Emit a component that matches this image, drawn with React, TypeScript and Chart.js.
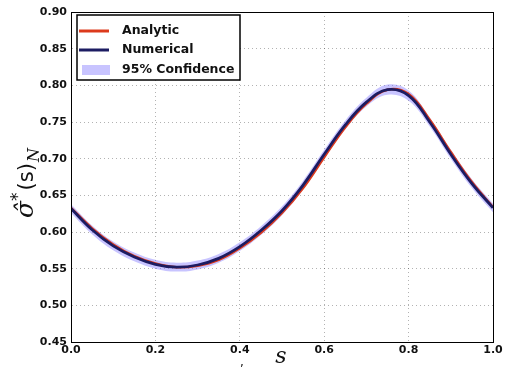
import React, { useEffect, useRef } from "react";
import { Chart, registerables } from "chart.js";

Chart.register(...registerables);

const sValues = [0, 0.05, 0.1, 0.15, 0.2, 0.25, 0.3, 0.35, 0.4, 0.45, 0.5, 0.55, 0.6, 0.65, 0.7, 0.75, 0.8, 0.85, 0.9, 0.95, 1.0];
const numerical = [0.632, 0.603, 0.581, 0.566, 0.556, 0.552, 0.555, 0.564, 0.580, 0.602, 0.629, 0.664, 0.706, 0.746, 0.777, 0.794, 0.786, 0.750, 0.706, 0.666, 0.633];
const analytic = [0.633, 0.605, 0.583, 0.567, 0.557, 0.552, 0.554, 0.562, 0.578, 0.599, 0.626, 0.660, 0.702, 0.743, 0.775, 0.794, 0.788, 0.753, 0.709, 0.668, 0.634];
const confUpper = [0.638, 0.609, 0.587, 0.572, 0.562, 0.558, 0.561, 0.570, 0.586, 0.608, 0.635, 0.670, 0.712, 0.752, 0.783, 0.801, 0.793, 0.756, 0.712, 0.672, 0.639];
const confLower = [0.626, 0.597, 0.575, 0.560, 0.550, 0.546, 0.549, 0.558, 0.574, 0.596, 0.623, 0.658, 0.700, 0.740, 0.771, 0.787, 0.779, 0.744, 0.700, 0.660, 0.627];
const legendLabels = ["Analytic", "Numerical", "95% Confidence"];

const RED = "#dc3a1c";
const NAVY = "#1c1c62";
const BAND = "rgba(125,115,255,0.42)";

const pts = (ys: number[]) => sValues.map((x, i) => ({ x, y: ys[i] }));

const decorPlugin = {
  id: "decor",
  afterDraw(chart: any) {
    const { ctx, chartArea: a } = chart;
    ctx.save();
    // frame
    ctx.strokeStyle = "#000";
    ctx.lineWidth = 1;
    ctx.strokeRect(a.left + 0.5, a.top + 0.5, a.right - a.left, a.bottom - a.top);

    // legend
    const lx = a.left + 6, ly = a.top + 3, lw = 163, lh = 65;
    ctx.fillStyle = "#fff";
    ctx.fillRect(lx, ly, lw, lh);
    ctx.lineWidth = 1.5;
    ctx.strokeStyle = "#000";
    ctx.strokeRect(lx, ly, lw, lh);
    const rows = [ly + 16, ly + 35, ly + 55];
    ctx.lineWidth = 3;
    ctx.strokeStyle = RED;
    ctx.beginPath(); ctx.moveTo(lx + 2, rows[0]); ctx.lineTo(lx + 32, rows[0]); ctx.stroke();
    ctx.strokeStyle = NAVY;
    ctx.beginPath(); ctx.moveTo(lx + 2, rows[1]); ctx.lineTo(lx + 32, rows[1]); ctx.stroke();
    ctx.fillStyle = BAND;
    ctx.fillRect(lx + 5, rows[2] - 5, 28, 10);
    ctx.fillStyle = "#111";
    ctx.font = "bold 12.5px 'DejaVu Sans'";
    ctx.textBaseline = "middle";
    ctx.textAlign = "left";
    legendLabels.forEach((t, i) => ctx.fillText(t, lx + 45, rows[i]));

    // x title
    ctx.textBaseline = "alphabetic";
    ctx.textAlign = "center";
    ctx.font = "italic 22px 'DejaVu Serif'";
    ctx.fillText("s", 281, 363);
    ctx.font = "12px 'DejaVu Sans'";
    ctx.fillText(",", 242, 366);

    // y title, rotated
    const pieces: [string, string, number, number][] = [
      ["\u03C3\u0302", "italic 25px 'DejaVu Serif'", 0, 0],
      ["*", "17px 'DejaVu Sans'", -10, 2],
      ["(s)", "21px 'DejaVu Sans'", 0, 1],
      ["N", "italic 16px 'DejaVu Serif'", 6, 0],
    ];
    let total = 0;
    const widths = pieces.map(([t, f, , g]) => { ctx.font = f; const w = ctx.measureText(t).width + g; total += w; return w; });
    ctx.translate(33, 183);
    ctx.rotate(-Math.PI / 2);
    ctx.textAlign = "left";
    let x = -total / 2;
    pieces.forEach(([t, f, dy], i) => {
      ctx.font = f;
      ctx.fillText(t, x, dy);
      x += widths[i];
    });
    ctx.restore();
  },
};

export default function App() {
  const ref = useRef<HTMLCanvasElement | null>(null);
  useEffect(() => {
    document.body.style.margin = "0";
    const chart = new Chart(ref.current!, {
      type: "line",
      data: {
        datasets: [
          { label: "upper", data: pts(confUpper), borderWidth: 0, pointRadius: 0, fill: "+1", backgroundColor: BAND, borderColor: "transparent", order: 3, tension: 0.4 },
          { label: "lower", data: pts(confLower), borderWidth: 0, pointRadius: 0, fill: false, borderColor: "transparent", order: 3, tension: 0.4 },
          { label: "Analytic", data: pts(analytic), borderColor: RED, borderWidth: 2.5, pointRadius: 0, fill: false, order: 2, tension: 0.4 },
          { label: "Numerical", data: pts(numerical), borderColor: NAVY, borderWidth: 2.8, pointRadius: 0, fill: false, order: 1, tension: 0.4 },
        ],
      },
      options: {
        responsive: false,
        animation: false,
        layout: { padding: { top: 12, right: 13, left: 0, bottom: 0 } },
        plugins: { legend: { display: false }, tooltip: { enabled: false } },
        scales: {
          x: {
            type: "linear",
            min: 0,
            max: 1,
            afterFit: (s: any) => { s.height = 36; },
            ticks: { stepSize: 0.2, callback: (v: any) => Number(v).toFixed(1), color: "#111", font: { family: "'DejaVu Sans'", size: 11, weight: "bold" }, padding: 2, maxRotation: 0 },
            grid: { color: "rgba(0,0,0,0.3)", drawTicks: false } as any,
            border: { color: "#000", dash: [1, 3] } as any,
          },
          y: {
            min: 0.45,
            max: 0.9,
            afterFit: (s: any) => { s.width = 71; },
            ticks: { stepSize: 0.05, callback: (v: any) => Number(v).toFixed(2), color: "#111", font: { family: "'DejaVu Sans'", size: 11, weight: "bold" }, padding: 4 },
            grid: { color: "rgba(0,0,0,0.3)", drawTicks: false } as any,
            border: { color: "#000", dash: [1, 3] } as any,
          },
        },
      },
      plugins: [decorPlugin],
    } as any);
    return () => chart.destroy();
  }, []);
  return <canvas ref={ref} width={506} height={378} style={{ display: "block" }} />;
}
